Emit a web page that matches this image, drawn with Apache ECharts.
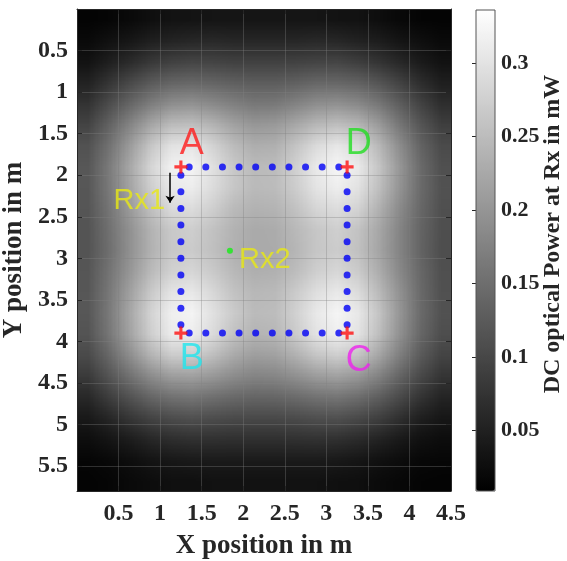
<!DOCTYPE html>
<html>
<head>
<meta charset="utf-8">
<title>DC optical power</title>
<script src="https://cdn.jsdelivr.net/npm/echarts@6/dist/echarts.min.js"></script>
<style>
    html, body { margin: 0; padding: 0; background: #fff; }
    /* off-screen heatmap, one pixel per cell; it is then drawn scaled into the plot */
    #heat { position: absolute; left: -200px; top: 0; width: 18px; height: 23px; }
    #main { width: 567px; height: 561px; }
</style>
</head>
<body>
<div id="heat"></div>
<div id="main"></div>
<script type="text/javascript">
    // heatmap cell centres in m
    var xCells = ['0.125', '0.375', '0.625', '0.875', '1.125', '1.375', '1.625', '1.875', '2.125',
        '2.375', '2.625', '2.875', '3.125', '3.375', '3.625', '3.875', '4.125', '4.375'];
    var yCells = ['0.125', '0.375', '0.625', '0.875', '1.125', '1.375', '1.625', '1.875', '2.125',
        '2.375', '2.625', '2.875', '3.125', '3.375', '3.625', '3.875', '4.125', '4.375', '4.625',
        '4.875', '5.125', '5.375', '5.625'];

    // DC optical power at Rx in mW, one row per yCell (top to bottom)
    var power = [
        [0.014, 0.017, 0.022, 0.026, 0.029, 0.031, 0.033, 0.033, 0.033, 0.033, 0.033, 0.033, 0.031, 0.029, 0.026, 0.022, 0.017, 0.014],
        [0.020, 0.027, 0.034, 0.042, 0.048, 0.051, 0.054, 0.052, 0.052, 0.052, 0.052, 0.054, 0.051, 0.048, 0.042, 0.034, 0.027, 0.020],
        [0.030, 0.042, 0.056, 0.069, 0.081, 0.087, 0.087, 0.084, 0.083, 0.083, 0.084, 0.087, 0.087, 0.081, 0.069, 0.056, 0.042, 0.030],
        [0.044, 0.064, 0.090, 0.110, 0.123, 0.128, 0.126, 0.121, 0.117, 0.117, 0.121, 0.126, 0.128, 0.123, 0.110, 0.090, 0.064, 0.044],
        [0.061, 0.096, 0.125, 0.152, 0.172, 0.179, 0.173, 0.161, 0.153, 0.153, 0.161, 0.173, 0.179, 0.172, 0.152, 0.125, 0.096, 0.061],
        [0.083, 0.121, 0.161, 0.202, 0.231, 0.239, 0.227, 0.206, 0.192, 0.192, 0.206, 0.227, 0.239, 0.231, 0.202, 0.161, 0.121, 0.083],
        [0.101, 0.142, 0.194, 0.248, 0.288, 0.297, 0.276, 0.246, 0.225, 0.225, 0.246, 0.276, 0.297, 0.288, 0.248, 0.194, 0.142, 0.101],
        [0.110, 0.155, 0.213, 0.275, 0.320, 0.330, 0.306, 0.270, 0.246, 0.246, 0.270, 0.306, 0.330, 0.320, 0.275, 0.213, 0.155, 0.110],
        [0.113, 0.157, 0.214, 0.272, 0.316, 0.326, 0.304, 0.272, 0.250, 0.250, 0.272, 0.304, 0.326, 0.316, 0.272, 0.214, 0.157, 0.113],
        [0.112, 0.152, 0.202, 0.254, 0.295, 0.305, 0.287, 0.258, 0.241, 0.241, 0.258, 0.287, 0.305, 0.295, 0.254, 0.202, 0.152, 0.112],
        [0.110, 0.147, 0.190, 0.235, 0.270, 0.280, 0.265, 0.243, 0.230, 0.230, 0.243, 0.265, 0.280, 0.270, 0.235, 0.190, 0.147, 0.110],
        [0.108, 0.145, 0.185, 0.228, 0.260, 0.270, 0.258, 0.237, 0.226, 0.226, 0.237, 0.258, 0.270, 0.260, 0.228, 0.185, 0.145, 0.108],
        [0.110, 0.147, 0.190, 0.235, 0.270, 0.280, 0.265, 0.243, 0.230, 0.230, 0.243, 0.265, 0.280, 0.270, 0.235, 0.190, 0.147, 0.110],
        [0.112, 0.152, 0.202, 0.254, 0.295, 0.305, 0.287, 0.258, 0.241, 0.241, 0.258, 0.287, 0.305, 0.295, 0.254, 0.202, 0.152, 0.112],
        [0.113, 0.157, 0.214, 0.272, 0.316, 0.326, 0.304, 0.272, 0.250, 0.250, 0.272, 0.304, 0.326, 0.316, 0.272, 0.214, 0.157, 0.113],
        [0.110, 0.155, 0.213, 0.275, 0.320, 0.330, 0.306, 0.270, 0.246, 0.246, 0.270, 0.306, 0.330, 0.320, 0.275, 0.213, 0.155, 0.110],
        [0.101, 0.142, 0.194, 0.248, 0.288, 0.297, 0.276, 0.246, 0.225, 0.225, 0.246, 0.276, 0.297, 0.288, 0.248, 0.194, 0.142, 0.101],
        [0.083, 0.121, 0.161, 0.202, 0.231, 0.239, 0.227, 0.206, 0.192, 0.192, 0.206, 0.227, 0.239, 0.231, 0.202, 0.161, 0.121, 0.083],
        [0.061, 0.096, 0.125, 0.152, 0.172, 0.179, 0.173, 0.161, 0.153, 0.153, 0.161, 0.173, 0.179, 0.172, 0.152, 0.125, 0.096, 0.061],
        [0.044, 0.064, 0.090, 0.110, 0.123, 0.128, 0.126, 0.121, 0.117, 0.117, 0.121, 0.126, 0.128, 0.123, 0.110, 0.090, 0.064, 0.044],
        [0.030, 0.042, 0.056, 0.069, 0.081, 0.087, 0.087, 0.084, 0.083, 0.083, 0.084, 0.087, 0.087, 0.081, 0.069, 0.056, 0.042, 0.030],
        [0.020, 0.027, 0.034, 0.042, 0.048, 0.051, 0.054, 0.052, 0.052, 0.052, 0.052, 0.054, 0.051, 0.048, 0.042, 0.034, 0.027, 0.020],
        [0.014, 0.017, 0.022, 0.026, 0.029, 0.031, 0.033, 0.033, 0.033, 0.033, 0.033, 0.033, 0.031, 0.029, 0.026, 0.022, 0.017, 0.014]
    ];

    var colorbarTicks = [0.05, 0.1, 0.15, 0.2, 0.25, 0.3];

    // receiver path (blue dots)
    var pathX = [1.35, 1.55, 1.75, 1.95, 2.15, 2.35, 2.55, 2.75, 2.95, 3.15];
    var pathY = [2.0, 2.2, 2.4, 2.6, 2.8, 3.0, 3.2, 3.4, 3.6, 3.8];
    var edgeX = [1.25, 3.25];
    var edgeY = [1.9, 3.9];

    // corners A, B, C, D
    var cornerX = [1.25, 1.25, 3.25, 3.25];
    var cornerY = [1.9, 3.9, 3.9, 1.9];

    var rx2 = [1.84, 2.91];
    var rx1Arrow = [[1.12, 1.97], [1.12, 2.33]];

    // text annotations
    var noteText = ['A', 'B', 'C', 'D', 'Rx1', 'Rx2'];
    var noteX = [1.38, 1.38, 3.39, 3.39, 0.75, 2.26];
    var noteY = [1.62, 4.21, 4.24, 1.62, 2.31, 3.02];

    var cells = [];
    power.forEach(function (row, j) {
        row.forEach(function (v, i) {
            cells.push([i, j, v]);
        });
    });

    var dots = [];
    pathX.forEach(function (x) {
        dots.push([x, edgeY[0]]);
        dots.push([x, edgeY[1]]);
    });
    pathY.forEach(function (y) {
        dots.push([edgeX[0], y]);
        dots.push([edgeX[1], y]);
    });

    var corners = cornerX.map(function (x, i) { return [x, cornerY[i]]; });

    var noteColors = ['#ff1a1a', '#1ee6ee', '#ee22ee', '#22dd22', '#e8e814', '#e8e814'];
    var noteSizes = [36, 36, 36, 36, 29, 29];
    var notes = noteText.map(function (t, i) {
        return {
            name: t,
            value: [noteX[i], noteY[i]],
            label: {color: noteColors[i], fontSize: noteSizes[i]}
        };
    });

    var grayMap = {
        type: 'continuous', min: 0.009, max: 0.336,
        inRange: {color: ['#000000', '#ffffff']}
    };

    // heatmap, drawn by ECharts one pixel per cell
    var heat = echarts.init(document.getElementById('heat'));
    heat.setOption({
        animation: false,
        grid: {left: 0, right: 0, top: 0, bottom: 0, outerBoundsMode: 'none'},
        xAxis: {type: 'category', data: xCells, show: false},
        yAxis: {type: 'category', data: yCells, inverse: true, show: false},
        visualMap: Object.assign({show: false, seriesIndex: 0}, grayMap),
        series: [{
            type: 'heatmap', data: cells,
            emphasis: {disabled: true}, progressive: 0
        }]
    });
    var heatCanvas = document.querySelector('#heat canvas');

    var plot = {left: 77, top: 9, width: 374, height: 482};
    var serif = '"Liberation Serif", "Times New Roman", serif';
    var ink = '#262626';
    var tickFont = {fontFamily: serif, fontWeight: 'bold', fontSize: 24, color: ink};
    var titleFont = {fontFamily: serif, fontWeight: 'bold', fontSize: 27, color: ink};
    var plus = 'path://M3.8,0H6.2V3.8H10V6.2H6.2V10H3.8V6.2H0V3.8H3.8Z';

    // axes, colorbar and annotations
    var chart = echarts.init(document.getElementById('main'));
    var option = {
        animation: false,
        grid: [
            {left: plot.left, top: plot.top, width: plot.width, height: plot.height, outerBoundsMode: 'none'},
            {left: 476, top: 10, width: 19, height: 481, outerBoundsMode: 'none'}
        ],
        xAxis: [
            {
                type: 'value', gridIndex: 0, min: 0, max: 4.5, interval: 0.5, z: 3,
                axisLine: {onZero: false, lineStyle: {color: ink}},
                axisTick: {inside: true, length: 5, lineStyle: {color: ink}},
                axisLabel: Object.assign({showMinLabel: false, margin: 11}, tickFont),
                splitLine: {show: true, lineStyle: {color: 'rgba(128,128,128,0.35)'}},
                name: 'X position in m', nameLocation: 'middle', nameGap: 42,
                nameTextStyle: titleFont
            },
            {
                type: 'value', gridIndex: 0, position: 'top', min: 0, max: 4.5, interval: 0.5, z: 3,
                axisLine: {onZero: false, lineStyle: {color: ink}},
                axisTick: {inside: true, length: 5, lineStyle: {color: ink}},
                axisLabel: {show: false}, splitLine: {show: false}
            },
            {type: 'value', gridIndex: 1, show: false, min: 0, max: 1}
        ],
        yAxis: [
            {
                type: 'value', gridIndex: 0, min: 0, max: 5.8, interval: 0.5, inverse: true, z: 3,
                axisLine: {onZero: false, lineStyle: {color: ink}},
                axisTick: {inside: true, length: 5, lineStyle: {color: ink}},
                axisLabel: Object.assign({showMinLabel: false, showMaxLabel: false, margin: 9}, tickFont),
                splitLine: {show: true, lineStyle: {color: 'rgba(128,128,128,0.35)'}},
                name: 'Y position in m', nameLocation: 'middle', nameGap: 45,
                nameTextStyle: titleFont
            },
            {
                type: 'value', gridIndex: 0, position: 'right', min: 0, max: 5.8, interval: 0.5, inverse: true, z: 3,
                axisLine: {onZero: false, lineStyle: {color: ink}},
                axisTick: {inside: true, length: 5, lineStyle: {color: ink}},
                axisLabel: {show: false}, splitLine: {show: false}
            },
            {
                type: 'value', gridIndex: 1, position: 'right', min: 0.009, max: 0.336, z: 5,
                axisLine: {show: false},
                axisTick: {show: true, inside: true, length: 4, customValues: colorbarTicks, lineStyle: {color: ink}},
                axisLabel: Object.assign({customValues: colorbarTicks, margin: 6}, tickFont, {fontSize: 22}),
                splitLine: {show: false}
            }
        ],
        visualMap: Object.assign({
            seriesIndex: [], calculable: false, hoverLink: false, orient: 'vertical',
            left: 476, top: 10, itemWidth: 19, itemHeight: 481, padding: 0
        }, grayMap),
        graphic: [
            {
                type: 'image', z: 0, silent: true,
                style: {image: heatCanvas, x: plot.left, y: plot.top, width: plot.width, height: plot.height}
            },
            {
                type: 'rect', z: 100, silent: true,
                shape: {x: 476, y: 10, width: 19, height: 481},
                style: {fill: null, stroke: '#555', lineWidth: 1}
            },
            {
                type: 'text', z: 100, silent: true, x: 553, y: 234, rotation: Math.PI / 2,
                style: {
                    text: 'DC optical Power at Rx in mW', fill: ink,
                    font: 'bold 24px ' + serif, align: 'center', verticalAlign: 'middle'
                }
            }
        ],
        series: [
            {
                type: 'scatter', data: dots, z: 5,
                symbol: 'circle', symbolSize: 7, itemStyle: {color: '#0000f5'}, silent: true
            },
            {
                type: 'scatter', data: [rx2], z: 5,
                symbol: 'circle', symbolSize: 6, itemStyle: {color: '#14ee14'}, silent: true
            },
            {
                type: 'scatter', data: corners, z: 6,
                symbol: plus, symbolSize: 13, itemStyle: {color: '#ff1010'}, silent: true
            },
            {
                type: 'lines', coordinateSystem: 'cartesian2d', z: 6,
                data: [{coords: rx1Arrow}], symbol: ['none', 'arrow'], symbolSize: 7,
                lineStyle: {color: '#000', width: 1.5, opacity: 1}, silent: true
            },
            {
                type: 'scatter', data: notes, z: 7,
                symbolSize: 0, silent: true,
                label: {
                    show: true, position: 'inside', formatter: '{b}',
                    fontFamily: '"Liberation Sans", Arial, sans-serif'
                }
            }
        ]
    };
    chart.setOption(option);
</script>
</body>
</html>
